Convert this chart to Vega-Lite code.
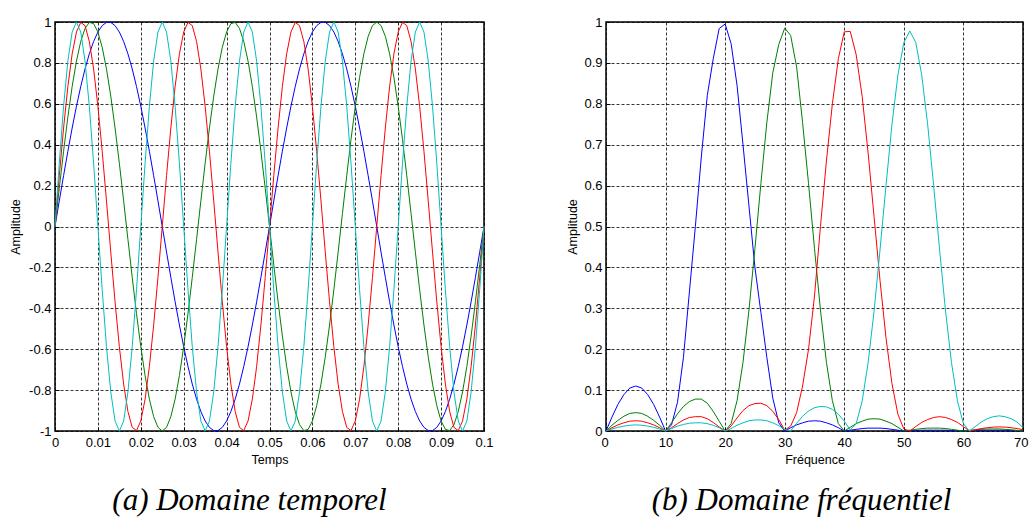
{
"$schema": "https://vega.github.io/schema/vega-lite/v6.json",
"padding": {"left": 8, "top": 15, "right": 0, "bottom": 0},
"background": "white",
"spacing": 71,
"config": {
  "view": {"stroke": "black", "strokeWidth": 1.5},
  "axis": {"grid": true, "gridColor": "black", "gridDash": [3, 2], "gridWidth": 0.8, "gridOpacity": 1, "domain": false, "ticks": true, "tickColor": "black", "tickSize": -4, "tickWidth": 1, "labelFont": "Liberation Sans", "labelFontSize": 13, "labelColor": "black", "titleFont": "Liberation Sans", "titleFontSize": 12.5, "titleFontWeight": "normal", "titleColor": "black", "labelPadding": 8, "labelFlush": false, "labelOverlap": false, "labelBound": false}
},
"datasets": {
"tb": [{"t":0,"a":0},{"t":0.001,"a":0.1253},{"t":0.002,"a":0.2487},{"t":0.003,"a":0.3681},{"t":0.004,"a":0.4818},{"t":0.005,"a":0.5878},{"t":0.006,"a":0.6845},{"t":0.007,"a":0.7705},{"t":0.008,"a":0.8443},{"t":0.009,"a":0.9048},{"t":0.01,"a":0.9511},{"t":0.011,"a":0.9823},{"t":0.012,"a":0.998},{"t":0.013,"a":0.998},{"t":0.014,"a":0.9823},{"t":0.015,"a":0.9511},{"t":0.016,"a":0.9048},{"t":0.017,"a":0.8443},{"t":0.018,"a":0.7705},{"t":0.019,"a":0.6845},{"t":0.02,"a":0.5878},{"t":0.021,"a":0.4818},{"t":0.022,"a":0.3681},{"t":0.023,"a":0.2487},{"t":0.024,"a":0.1253},{"t":0.025,"a":0},{"t":0.026,"a":-0.1253},{"t":0.027,"a":-0.2487},{"t":0.028,"a":-0.3681},{"t":0.029,"a":-0.4818},{"t":0.03,"a":-0.5878},{"t":0.031,"a":-0.6845},{"t":0.032,"a":-0.7705},{"t":0.033,"a":-0.8443},{"t":0.034,"a":-0.9048},{"t":0.035,"a":-0.9511},{"t":0.036,"a":-0.9823},{"t":0.037,"a":-0.998},{"t":0.038,"a":-0.998},{"t":0.039,"a":-0.9823},{"t":0.04,"a":-0.9511},{"t":0.041,"a":-0.9048},{"t":0.042,"a":-0.8443},{"t":0.043,"a":-0.7705},{"t":0.044,"a":-0.6845},{"t":0.045,"a":-0.5878},{"t":0.046,"a":-0.4818},{"t":0.047,"a":-0.3681},{"t":0.048,"a":-0.2487},{"t":0.049,"a":-0.1253},{"t":0.05,"a":0},{"t":0.051,"a":0.1253},{"t":0.052,"a":0.2487},{"t":0.053,"a":0.3681},{"t":0.054,"a":0.4818},{"t":0.055,"a":0.5878},{"t":0.056,"a":0.6845},{"t":0.057,"a":0.7705},{"t":0.058,"a":0.8443},{"t":0.059,"a":0.9048},{"t":0.06,"a":0.9511},{"t":0.061,"a":0.9823},{"t":0.062,"a":0.998},{"t":0.063,"a":0.998},{"t":0.064,"a":0.9823},{"t":0.065,"a":0.9511},{"t":0.066,"a":0.9048},{"t":0.067,"a":0.8443},{"t":0.068,"a":0.7705},{"t":0.069,"a":0.6845},{"t":0.07,"a":0.5878},{"t":0.071,"a":0.4818},{"t":0.072,"a":0.3681},{"t":0.073,"a":0.2487},{"t":0.074,"a":0.1253},{"t":0.075,"a":0},{"t":0.076,"a":-0.1253},{"t":0.077,"a":-0.2487},{"t":0.078,"a":-0.3681},{"t":0.079,"a":-0.4818},{"t":0.08,"a":-0.5878},{"t":0.081,"a":-0.6845},{"t":0.082,"a":-0.7705},{"t":0.083,"a":-0.8443},{"t":0.084,"a":-0.9048},{"t":0.085,"a":-0.9511},{"t":0.086,"a":-0.9823},{"t":0.087,"a":-0.998},{"t":0.088,"a":-0.998},{"t":0.089,"a":-0.9823},{"t":0.09,"a":-0.9511},{"t":0.091,"a":-0.9048},{"t":0.092,"a":-0.8443},{"t":0.093,"a":-0.7705},{"t":0.094,"a":-0.6845},{"t":0.095,"a":-0.5878},{"t":0.096,"a":-0.4818},{"t":0.097,"a":-0.3681},{"t":0.098,"a":-0.2487},{"t":0.099,"a":-0.1253},{"t":0.1,"a":0}],
"tg": [{"t":0,"a":0},{"t":0.001,"a":0.1874},{"t":0.002,"a":0.3681},{"t":0.003,"a":0.5358},{"t":0.004,"a":0.6845},{"t":0.005,"a":0.809},{"t":0.006,"a":0.9048},{"t":0.007,"a":0.9686},{"t":0.008,"a":0.998},{"t":0.009,"a":0.9921},{"t":0.01,"a":0.9511},{"t":0.011,"a":0.8763},{"t":0.012,"a":0.7705},{"t":0.013,"a":0.6374},{"t":0.014,"a":0.4818},{"t":0.015,"a":0.309},{"t":0.016,"a":0.1253},{"t":0.017,"a":-0.0628},{"t":0.018,"a":-0.2487},{"t":0.019,"a":-0.4258},{"t":0.02,"a":-0.5878},{"t":0.021,"a":-0.729},{"t":0.022,"a":-0.8443},{"t":0.023,"a":-0.9298},{"t":0.024,"a":-0.9823},{"t":0.025,"a":-1},{"t":0.026,"a":-0.9823},{"t":0.027,"a":-0.9298},{"t":0.028,"a":-0.8443},{"t":0.029,"a":-0.729},{"t":0.03,"a":-0.5878},{"t":0.031,"a":-0.4258},{"t":0.032,"a":-0.2487},{"t":0.033,"a":-0.0628},{"t":0.034,"a":0.1253},{"t":0.035,"a":0.309},{"t":0.036,"a":0.4818},{"t":0.037,"a":0.6374},{"t":0.038,"a":0.7705},{"t":0.039,"a":0.8763},{"t":0.04,"a":0.9511},{"t":0.041,"a":0.9921},{"t":0.042,"a":0.998},{"t":0.043,"a":0.9686},{"t":0.044,"a":0.9048},{"t":0.045,"a":0.809},{"t":0.046,"a":0.6845},{"t":0.047,"a":0.5358},{"t":0.048,"a":0.3681},{"t":0.049,"a":0.1874},{"t":0.05,"a":0},{"t":0.051,"a":-0.1874},{"t":0.052,"a":-0.3681},{"t":0.053,"a":-0.5358},{"t":0.054,"a":-0.6845},{"t":0.055,"a":-0.809},{"t":0.056,"a":-0.9048},{"t":0.057,"a":-0.9686},{"t":0.058,"a":-0.998},{"t":0.059,"a":-0.9921},{"t":0.06,"a":-0.9511},{"t":0.061,"a":-0.8763},{"t":0.062,"a":-0.7705},{"t":0.063,"a":-0.6374},{"t":0.064,"a":-0.4818},{"t":0.065,"a":-0.309},{"t":0.066,"a":-0.1253},{"t":0.067,"a":0.0628},{"t":0.068,"a":0.2487},{"t":0.069,"a":0.4258},{"t":0.07,"a":0.5878},{"t":0.071,"a":0.729},{"t":0.072,"a":0.8443},{"t":0.073,"a":0.9298},{"t":0.074,"a":0.9823},{"t":0.075,"a":1},{"t":0.076,"a":0.9823},{"t":0.077,"a":0.9298},{"t":0.078,"a":0.8443},{"t":0.079,"a":0.729},{"t":0.08,"a":0.5878},{"t":0.081,"a":0.4258},{"t":0.082,"a":0.2487},{"t":0.083,"a":0.0628},{"t":0.084,"a":-0.1253},{"t":0.085,"a":-0.309},{"t":0.086,"a":-0.4818},{"t":0.087,"a":-0.6374},{"t":0.088,"a":-0.7705},{"t":0.089,"a":-0.8763},{"t":0.09,"a":-0.9511},{"t":0.091,"a":-0.9921},{"t":0.092,"a":-0.998},{"t":0.093,"a":-0.9686},{"t":0.094,"a":-0.9048},{"t":0.095,"a":-0.809},{"t":0.096,"a":-0.6845},{"t":0.097,"a":-0.5358},{"t":0.098,"a":-0.3681},{"t":0.099,"a":-0.1874},{"t":0.1,"a":0}],
"tr": [{"t":0,"a":0},{"t":0.001,"a":0.2487},{"t":0.002,"a":0.4818},{"t":0.003,"a":0.6845},{"t":0.004,"a":0.8443},{"t":0.005,"a":0.9511},{"t":0.006,"a":0.998},{"t":0.007,"a":0.9823},{"t":0.008,"a":0.9048},{"t":0.009,"a":0.7705},{"t":0.01,"a":0.5878},{"t":0.011,"a":0.3681},{"t":0.012,"a":0.1253},{"t":0.013,"a":-0.1253},{"t":0.014,"a":-0.3681},{"t":0.015,"a":-0.5878},{"t":0.016,"a":-0.7705},{"t":0.017,"a":-0.9048},{"t":0.018,"a":-0.9823},{"t":0.019,"a":-0.998},{"t":0.02,"a":-0.9511},{"t":0.021,"a":-0.8443},{"t":0.022,"a":-0.6845},{"t":0.023,"a":-0.4818},{"t":0.024,"a":-0.2487},{"t":0.025,"a":0},{"t":0.026,"a":0.2487},{"t":0.027,"a":0.4818},{"t":0.028,"a":0.6845},{"t":0.029,"a":0.8443},{"t":0.03,"a":0.9511},{"t":0.031,"a":0.998},{"t":0.032,"a":0.9823},{"t":0.033,"a":0.9048},{"t":0.034,"a":0.7705},{"t":0.035,"a":0.5878},{"t":0.036,"a":0.3681},{"t":0.037,"a":0.1253},{"t":0.038,"a":-0.1253},{"t":0.039,"a":-0.3681},{"t":0.04,"a":-0.5878},{"t":0.041,"a":-0.7705},{"t":0.042,"a":-0.9048},{"t":0.043,"a":-0.9823},{"t":0.044,"a":-0.998},{"t":0.045,"a":-0.9511},{"t":0.046,"a":-0.8443},{"t":0.047,"a":-0.6845},{"t":0.048,"a":-0.4818},{"t":0.049,"a":-0.2487},{"t":0.05,"a":0},{"t":0.051,"a":0.2487},{"t":0.052,"a":0.4818},{"t":0.053,"a":0.6845},{"t":0.054,"a":0.8443},{"t":0.055,"a":0.9511},{"t":0.056,"a":0.998},{"t":0.057,"a":0.9823},{"t":0.058,"a":0.9048},{"t":0.059,"a":0.7705},{"t":0.06,"a":0.5878},{"t":0.061,"a":0.3681},{"t":0.062,"a":0.1253},{"t":0.063,"a":-0.1253},{"t":0.064,"a":-0.3681},{"t":0.065,"a":-0.5878},{"t":0.066,"a":-0.7705},{"t":0.067,"a":-0.9048},{"t":0.068,"a":-0.9823},{"t":0.069,"a":-0.998},{"t":0.07,"a":-0.9511},{"t":0.071,"a":-0.8443},{"t":0.072,"a":-0.6845},{"t":0.073,"a":-0.4818},{"t":0.074,"a":-0.2487},{"t":0.075,"a":0},{"t":0.076,"a":0.2487},{"t":0.077,"a":0.4818},{"t":0.078,"a":0.6845},{"t":0.079,"a":0.8443},{"t":0.08,"a":0.9511},{"t":0.081,"a":0.998},{"t":0.082,"a":0.9823},{"t":0.083,"a":0.9048},{"t":0.084,"a":0.7705},{"t":0.085,"a":0.5878},{"t":0.086,"a":0.3681},{"t":0.087,"a":0.1253},{"t":0.088,"a":-0.1253},{"t":0.089,"a":-0.3681},{"t":0.09,"a":-0.5878},{"t":0.091,"a":-0.7705},{"t":0.092,"a":-0.9048},{"t":0.093,"a":-0.9823},{"t":0.094,"a":-0.998},{"t":0.095,"a":-0.9511},{"t":0.096,"a":-0.8443},{"t":0.097,"a":-0.6845},{"t":0.098,"a":-0.4818},{"t":0.099,"a":-0.2487},{"t":0.1,"a":0}],
"tc": [{"t":0,"a":0},{"t":0.001,"a":0.309},{"t":0.002,"a":0.5878},{"t":0.003,"a":0.809},{"t":0.004,"a":0.9511},{"t":0.005,"a":1},{"t":0.006,"a":0.9511},{"t":0.007,"a":0.809},{"t":0.008,"a":0.5878},{"t":0.009,"a":0.309},{"t":0.01,"a":0},{"t":0.011,"a":-0.309},{"t":0.012,"a":-0.5878},{"t":0.013,"a":-0.809},{"t":0.014,"a":-0.9511},{"t":0.015,"a":-1},{"t":0.016,"a":-0.9511},{"t":0.017,"a":-0.809},{"t":0.018,"a":-0.5878},{"t":0.019,"a":-0.309},{"t":0.02,"a":0},{"t":0.021,"a":0.309},{"t":0.022,"a":0.5878},{"t":0.023,"a":0.809},{"t":0.024,"a":0.9511},{"t":0.025,"a":1},{"t":0.026,"a":0.9511},{"t":0.027,"a":0.809},{"t":0.028,"a":0.5878},{"t":0.029,"a":0.309},{"t":0.03,"a":0},{"t":0.031,"a":-0.309},{"t":0.032,"a":-0.5878},{"t":0.033,"a":-0.809},{"t":0.034,"a":-0.9511},{"t":0.035,"a":-1},{"t":0.036,"a":-0.9511},{"t":0.037,"a":-0.809},{"t":0.038,"a":-0.5878},{"t":0.039,"a":-0.309},{"t":0.04,"a":0},{"t":0.041,"a":0.309},{"t":0.042,"a":0.5878},{"t":0.043,"a":0.809},{"t":0.044,"a":0.9511},{"t":0.045,"a":1},{"t":0.046,"a":0.9511},{"t":0.047,"a":0.809},{"t":0.048,"a":0.5878},{"t":0.049,"a":0.309},{"t":0.05,"a":0},{"t":0.051,"a":-0.309},{"t":0.052,"a":-0.5878},{"t":0.053,"a":-0.809},{"t":0.054,"a":-0.9511},{"t":0.055,"a":-1},{"t":0.056,"a":-0.9511},{"t":0.057,"a":-0.809},{"t":0.058,"a":-0.5878},{"t":0.059,"a":-0.309},{"t":0.06,"a":0},{"t":0.061,"a":0.309},{"t":0.062,"a":0.5878},{"t":0.063,"a":0.809},{"t":0.064,"a":0.9511},{"t":0.065,"a":1},{"t":0.066,"a":0.9511},{"t":0.067,"a":0.809},{"t":0.068,"a":0.5878},{"t":0.069,"a":0.309},{"t":0.07,"a":0},{"t":0.071,"a":-0.309},{"t":0.072,"a":-0.5878},{"t":0.073,"a":-0.809},{"t":0.074,"a":-0.9511},{"t":0.075,"a":-1},{"t":0.076,"a":-0.9511},{"t":0.077,"a":-0.809},{"t":0.078,"a":-0.5878},{"t":0.079,"a":-0.309},{"t":0.08,"a":0},{"t":0.081,"a":0.309},{"t":0.082,"a":0.5878},{"t":0.083,"a":0.809},{"t":0.084,"a":0.9511},{"t":0.085,"a":1},{"t":0.086,"a":0.9511},{"t":0.087,"a":0.809},{"t":0.088,"a":0.5878},{"t":0.089,"a":0.309},{"t":0.09,"a":0},{"t":0.091,"a":-0.309},{"t":0.092,"a":-0.5878},{"t":0.093,"a":-0.809},{"t":0.094,"a":-0.9511},{"t":0.095,"a":-1},{"t":0.096,"a":-0.9511},{"t":0.097,"a":-0.809},{"t":0.098,"a":-0.5878},{"t":0.099,"a":-0.309},{"t":0.1,"a":0}],
"fb": [{"f":0,"a":0},{"f":1,"a":0.034},{"f":2,"a":0.065},{"f":3,"a":0.089},{"f":4,"a":0.105},{"f":5,"a":0.11},{"f":6,"a":0.105},{"f":7,"a":0.089},{"f":8,"a":0.065},{"f":9,"a":0.034},{"f":10,"a":0},{"f":11,"a":0.015},{"f":12,"a":0.07},{"f":13,"a":0.18},{"f":14,"a":0.34},{"f":15,"a":0.5},{"f":16,"a":0.67},{"f":17,"a":0.82},{"f":18,"a":0.91},{"f":19,"a":0.984},{"f":20,"a":0.995},{"f":21,"a":0.947},{"f":22,"a":0.845},{"f":23,"a":0.7},{"f":24,"a":0.55},{"f":25,"a":0.4},{"f":26,"a":0.29},{"f":27,"a":0.18},{"f":28,"a":0.08},{"f":29,"a":0.02},{"f":30,"a":0},{"f":31,"a":0.008},{"f":32,"a":0.015},{"f":33,"a":0.02},{"f":34,"a":0.024},{"f":35,"a":0.025},{"f":36,"a":0.024},{"f":37,"a":0.02},{"f":38,"a":0.015},{"f":39,"a":0.008},{"f":40,"a":0},{"f":41,"a":0.002},{"f":42,"a":0.004},{"f":43,"a":0.006},{"f":44,"a":0.007},{"f":45,"a":0.007},{"f":46,"a":0.007},{"f":47,"a":0.006},{"f":48,"a":0.004},{"f":49,"a":0.002},{"f":50,"a":0},{"f":51,"a":0.001},{"f":52,"a":0.001},{"f":53,"a":0.002},{"f":54,"a":0.002},{"f":55,"a":0.002},{"f":56,"a":0.002},{"f":57,"a":0.002},{"f":58,"a":0.001},{"f":59,"a":0.001},{"f":60,"a":0},{"f":61,"a":0.001},{"f":62,"a":0.001},{"f":63,"a":0.002},{"f":64,"a":0.002},{"f":65,"a":0.002},{"f":66,"a":0.002},{"f":67,"a":0.002},{"f":68,"a":0.001},{"f":69,"a":0.001},{"f":70,"a":0}],
"fg": [{"f":0,"a":0},{"f":1,"a":0.014},{"f":2,"a":0.026},{"f":3,"a":0.036},{"f":4,"a":0.043},{"f":5,"a":0.045},{"f":6,"a":0.043},{"f":7,"a":0.036},{"f":8,"a":0.026},{"f":9,"a":0.014},{"f":10,"a":0},{"f":11,"a":0.02},{"f":12,"a":0.042},{"f":13,"a":0.06},{"f":14,"a":0.072},{"f":15,"a":0.078},{"f":16,"a":0.078},{"f":17,"a":0.068},{"f":18,"a":0.048},{"f":19,"a":0.024},{"f":20,"a":0},{"f":21,"a":0.018},{"f":22,"a":0.074},{"f":23,"a":0.168},{"f":24,"a":0.296},{"f":25,"a":0.446},{"f":26,"a":0.605},{"f":27,"a":0.754},{"f":28,"a":0.876},{"f":29,"a":0.945},{"f":30,"a":0.985},{"f":31,"a":0.967},{"f":32,"a":0.89},{"f":33,"a":0.754},{"f":34,"a":0.605},{"f":35,"a":0.446},{"f":36,"a":0.296},{"f":37,"a":0.168},{"f":38,"a":0.074},{"f":39,"a":0.018},{"f":40,"a":0},{"f":41,"a":0.009},{"f":42,"a":0.018},{"f":43,"a":0.024},{"f":44,"a":0.029},{"f":45,"a":0.03},{"f":46,"a":0.029},{"f":47,"a":0.024},{"f":48,"a":0.018},{"f":49,"a":0.009},{"f":50,"a":0},{"f":51,"a":0.002},{"f":52,"a":0.004},{"f":53,"a":0.006},{"f":54,"a":0.007},{"f":55,"a":0.007},{"f":56,"a":0.007},{"f":57,"a":0.006},{"f":58,"a":0.004},{"f":59,"a":0.002},{"f":60,"a":0},{"f":61,"a":0.0015},{"f":62,"a":0.003},{"f":63,"a":0.004},{"f":64,"a":0.005},{"f":65,"a":0.005},{"f":66,"a":0.005},{"f":67,"a":0.004},{"f":68,"a":0.003},{"f":69,"a":0.0015},{"f":70,"a":0}],
"fr": [{"f":0,"a":0},{"f":1,"a":0.008},{"f":2,"a":0.015},{"f":3,"a":0.02},{"f":4,"a":0.024},{"f":5,"a":0.025},{"f":6,"a":0.024},{"f":7,"a":0.02},{"f":8,"a":0.015},{"f":9,"a":0.008},{"f":10,"a":0},{"f":11,"a":0.008},{"f":12,"a":0.018},{"f":13,"a":0.027},{"f":14,"a":0.033},{"f":15,"a":0.035},{"f":16,"a":0.035},{"f":17,"a":0.03},{"f":18,"a":0.021},{"f":19,"a":0.01},{"f":20,"a":0},{"f":21,"a":0.012},{"f":22,"a":0.032},{"f":23,"a":0.05},{"f":24,"a":0.062},{"f":25,"a":0.067},{"f":26,"a":0.068},{"f":27,"a":0.062},{"f":28,"a":0.048},{"f":29,"a":0.028},{"f":30,"a":0.002},{"f":31,"a":0.012},{"f":32,"a":0.045},{"f":33,"a":0.11},{"f":34,"a":0.2},{"f":35,"a":0.33},{"f":36,"a":0.5},{"f":37,"a":0.66},{"f":38,"a":0.8},{"f":39,"a":0.91},{"f":40,"a":0.976},{"f":41,"a":0.977},{"f":42,"a":0.92},{"f":43,"a":0.818},{"f":44,"a":0.68},{"f":45,"a":0.524},{"f":46,"a":0.368},{"f":47,"a":0.228},{"f":48,"a":0.116},{"f":49,"a":0.041},{"f":50,"a":0.005},{"f":51,"a":0},{"f":52,"a":0.011},{"f":53,"a":0.021},{"f":54,"a":0.028},{"f":55,"a":0.033},{"f":56,"a":0.035},{"f":57,"a":0.033},{"f":58,"a":0.028},{"f":59,"a":0.021},{"f":60,"a":0.011},{"f":61,"a":0},{"f":62,"a":0.003},{"f":63,"a":0.006},{"f":64,"a":0.008},{"f":65,"a":0.0095},{"f":66,"a":0.01},{"f":67,"a":0.0095},{"f":68,"a":0.008},{"f":69,"a":0.006},{"f":70,"a":0.003}],
"fc": [{"f":0,"a":0},{"f":1,"a":0.005},{"f":2,"a":0.009},{"f":3,"a":0.012},{"f":4,"a":0.014},{"f":5,"a":0.015},{"f":6,"a":0.014},{"f":7,"a":0.012},{"f":8,"a":0.009},{"f":9,"a":0.005},{"f":10,"a":0},{"f":11,"a":0.006},{"f":12,"a":0.012},{"f":13,"a":0.016},{"f":14,"a":0.019},{"f":15,"a":0.02},{"f":16,"a":0.02},{"f":17,"a":0.018},{"f":18,"a":0.014},{"f":19,"a":0.008},{"f":20,"a":0},{"f":21,"a":0.006},{"f":22,"a":0.014},{"f":23,"a":0.02},{"f":24,"a":0.025},{"f":25,"a":0.027},{"f":26,"a":0.027},{"f":27,"a":0.025},{"f":28,"a":0.02},{"f":29,"a":0.013},{"f":30,"a":0.004},{"f":31,"a":0},{"f":32,"a":0.019},{"f":33,"a":0.036},{"f":34,"a":0.049},{"f":35,"a":0.057},{"f":36,"a":0.06},{"f":37,"a":0.059},{"f":38,"a":0.053},{"f":39,"a":0.041},{"f":40,"a":0.024},{"f":41,"a":0.003},{"f":42,"a":0.018},{"f":43,"a":0.073},{"f":44,"a":0.167},{"f":45,"a":0.293},{"f":46,"a":0.443},{"f":47,"a":0.6},{"f":48,"a":0.749},{"f":49,"a":0.87},{"f":50,"a":0.95},{"f":51,"a":0.978},{"f":52,"a":0.95},{"f":53,"a":0.87},{"f":54,"a":0.749},{"f":55,"a":0.6},{"f":56,"a":0.443},{"f":57,"a":0.293},{"f":58,"a":0.167},{"f":59,"a":0.073},{"f":60,"a":0.018},{"f":61,"a":0},{"f":62,"a":0.011},{"f":63,"a":0.022},{"f":64,"a":0.03},{"f":65,"a":0.035},{"f":66,"a":0.037},{"f":67,"a":0.035},{"f":68,"a":0.03},{"f":69,"a":0.022},{"f":70,"a":0.008}]
},
"hconcat": [
{
  "width": 429, "height": 409,
  "title": {"text": "(a) Domaine temporel", "orient": "bottom", "frame": "group", "anchor": "middle", "dx": -20, "offset": 20, "font": "Liberation Serif", "fontStyle": "italic", "fontWeight": "normal", "fontSize": 31, "color": "black"},
  "encoding": {
    "x": {"field": "t", "type": "quantitative", "scale": {"domain": [0, 0.1], "nice": false, "zero": false}, "axis": {"title": "Temps", "values": [0, 0.01, 0.02, 0.03, 0.04, 0.05, 0.06, 0.07, 0.08, 0.09, 0.1], "format": "~g", "labelPadding": 9, "titlePadding": 4}},
    "y": {"field": "a", "type": "quantitative", "scale": {"domain": [-1, 1], "nice": false}, "axis": {"title": "Amplitude", "values": [-1, -0.8, -0.6, -0.4, -0.2, 0, 0.2, 0.4, 0.6, 0.8, 1], "labelExpr": "datum.value < 0 ? '-' + format(-datum.value, '~g') : format(datum.value, '~g')", "minExtent": 25, "maxExtent": 25, "titlePadding": 8}}
  },
  "layer": [
    {"data": {"name": "tb"}, "mark": {"type": "line", "color": "#0000ff", "strokeWidth": 1}},
    {"data": {"name": "tg"}, "mark": {"type": "line", "color": "#008000", "strokeWidth": 1}},
    {"data": {"name": "tr"}, "mark": {"type": "line", "color": "#ff0000", "strokeWidth": 1}},
    {"data": {"name": "tc"}, "mark": {"type": "line", "color": "#00bfbf", "strokeWidth": 1}}
  ]
},
{
  "width": 417, "height": 409,
  "title": {"text": "(b) Domaine fréquentiel", "orient": "bottom", "frame": "group", "anchor": "middle", "dx": -13, "offset": 20, "font": "Liberation Serif", "fontStyle": "italic", "fontWeight": "normal", "fontSize": 31, "color": "black"},
  "encoding": {
    "x": {"field": "f", "type": "quantitative", "scale": {"domain": [0, 70], "nice": false, "zero": false}, "axis": {"title": "Fréquence", "values": [0, 10, 20, 30, 40, 50, 60, 70], "format": "d", "labelPadding": 9, "titlePadding": 4, "labelFlush": true, "labelFlushOffset": 5}},
    "y": {"field": "a", "type": "quantitative", "scale": {"domain": [0, 1], "nice": false}, "axis": {"title": "Amplitude", "values": [0, 0.1, 0.2, 0.3, 0.4, 0.5, 0.6, 0.7, 0.8, 0.9, 1], "format": "~g", "minExtent": 21, "maxExtent": 21, "titlePadding": 6}}
  },
  "layer": [
    {"data": {"name": "fb"}, "mark": {"type": "line", "color": "#0000ff", "strokeWidth": 1}},
    {"data": {"name": "fg"}, "mark": {"type": "line", "color": "#008000", "strokeWidth": 1}},
    {"data": {"name": "fr"}, "mark": {"type": "line", "color": "#ff0000", "strokeWidth": 1}},
    {"data": {"name": "fc"}, "mark": {"type": "line", "color": "#00bfbf", "strokeWidth": 1}}
  ]
}
]
}
